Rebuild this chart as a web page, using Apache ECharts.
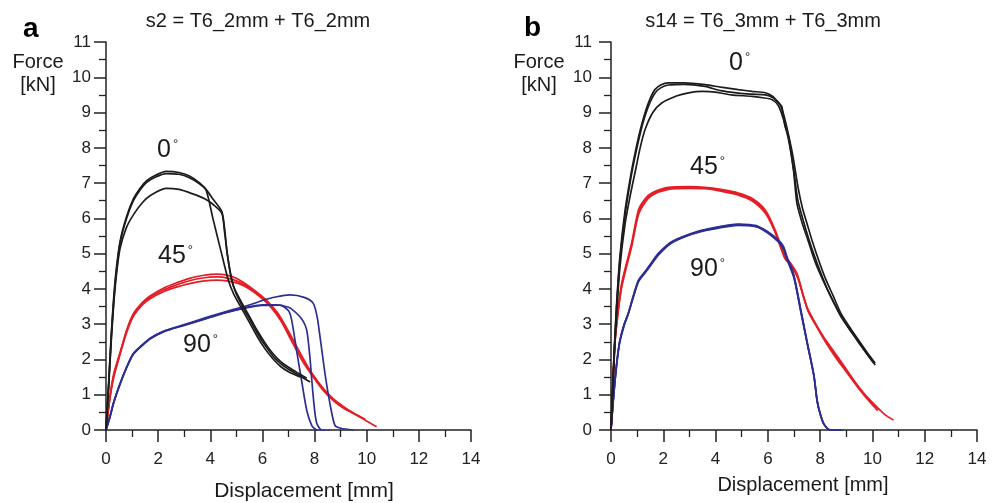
<!DOCTYPE html>
<html>
<head>
<meta charset="utf-8">
<script src="https://cdn.jsdelivr.net/npm/echarts@6/dist/echarts.min.js"></script>
<style>
html,body{margin:0;padding:0;background:#fff;}
#chart{width:1003px;height:503px;}
</style>
</head>
<body>
<div id="chart"></div>
<script>
// ---- axis ticks ----
const xTicks = [0, 2, 4, 6, 8, 10, 12, 14];
const yTicks = [0, 1, 2, 3, 4, 5, 6, 7, 8, 9, 10, 11];

// ---- texts ----
const panelLetters = ['a', 'b'];
const panelTitles = ['s2 = T6_2mm + T6_2mm', 's14 = T6_3mm + T6_3mm'];
const xAxisTitle = 'Displacement [mm]';
const yAxisTitle = ['Force', '[kN]'];
const angleLabels = ['0', '45', '90'];

// ---- panel a : s2 (displacement mm, force kN) ----
const s2_0_A = [[0,0],[0.1,1.3],[0.2,2.7],[0.3,3.8],[0.4,4.6],[0.54,5.35],[0.79,6.05],[1.05,6.55],[1.3,6.85],[1.56,7.07],[1.9,7.22],[2.3,7.33],[2.8,7.3],[3.2,7.2],[3.6,7.0],[3.86,6.8],[4.1,6.55],[4.44,6.2],[4.55,5.7],[4.65,5.0],[4.8,4.35],[4.95,3.95],[5.2,3.55],[5.5,3.15],[5.8,2.75],[6.1,2.4],[6.4,2.1],[6.7,1.88],[7.0,1.72],[7.4,1.55],[7.83,1.36]];
const s2_0_B = [[0,0],[0.1,1.25],[0.2,2.6],[0.3,3.7],[0.4,4.5],[0.54,5.3],[0.79,6.0],[1.05,6.5],[1.3,6.8],[1.56,7.02],[1.9,7.17],[2.3,7.27],[2.8,7.25],[3.2,7.15],[3.6,6.97],[3.84,6.8],[4.1,6.0],[4.4,5.1],[4.69,4.25],[4.9,3.85],[5.2,3.45],[5.5,3.05],[5.8,2.65],[6.1,2.3],[6.4,2.02],[6.7,1.8],[7.0,1.65],[7.44,1.5]];
const s2_0_C = [[0,0],[0.1,1.2],[0.2,2.5],[0.3,3.6],[0.4,4.4],[0.54,5.15],[0.79,5.75],[1.05,6.1],[1.4,6.45],[1.7,6.65],[2.3,6.85],[2.8,6.82],[3.3,6.7],[3.8,6.55],[4.1,6.4],[4.44,6.15],[4.55,5.6],[4.65,5.0],[4.78,4.4],[4.9,4.05],[5.2,3.62],[5.5,3.22],[5.8,2.82],[6.1,2.47],[6.4,2.17],[6.7,1.94],[7.0,1.78],[7.4,1.6],[7.7,1.47]];

const s2_45_A = [[0,0],[0.15,0.95],[0.3,1.6],[0.54,2.2],[0.8,2.85],[1.05,3.3],[1.4,3.62],[1.69,3.8],[2.2,4.02],[2.7,4.17],[3.2,4.3],[3.7,4.38],[4.25,4.42],[4.6,4.4],[5.0,4.3],[5.4,4.12],[5.8,3.9],[6.2,3.65],[6.6,3.3],[7.0,2.8],[7.4,2.25],[7.8,1.72],[8.2,1.3],[8.6,0.95],[9.0,0.72],[9.5,0.46],[9.9,0.3],[10.38,0.09]];
const s2_45_B = [[0,0],[0.15,0.9],[0.3,1.5],[0.54,2.15],[0.8,2.78],[1.05,3.22],[1.4,3.55],[1.69,3.72],[2.2,3.92],[2.7,4.05],[3.2,4.15],[3.7,4.22],[4.25,4.25],[4.7,4.22],[5.1,4.15],[5.5,4.0],[5.9,3.78],[6.3,3.5],[6.7,3.1],[7.1,2.55],[7.5,2.0],[7.9,1.55],[8.3,1.15],[8.7,0.85],[9.1,0.62],[9.49,0.47]];
const s2_45_C = [[0,0],[0.15,0.92],[0.3,1.55],[0.54,2.18],[0.8,2.82],[1.05,3.26],[1.4,3.58],[1.69,3.76],[2.2,3.97],[2.7,4.11],[3.2,4.23],[3.7,4.31],[4.25,4.34],[4.7,4.3],[5.1,4.2],[5.5,4.03],[5.9,3.8],[6.3,3.52],[6.7,3.15],[7.1,2.62],[7.5,2.08],[7.9,1.6],[8.3,1.2],[8.7,0.9],[9.1,0.66],[9.6,0.44],[9.95,0.3]];

const s2_90_A = [[0,0],[0.15,0.37],[0.3,0.8],[0.54,1.32],[0.8,1.8],[1.05,2.17],[1.4,2.42],[1.69,2.6],[2.2,2.8],[2.97,2.98],[3.6,3.13],[4.25,3.28],[4.9,3.42],[5.52,3.55],[6.0,3.67],[6.5,3.77],[7.06,3.83],[7.6,3.76],[7.95,3.59],[8.1,3.2],[8.21,2.64],[8.4,1.6],[8.59,0.75],[8.78,0.13],[9.0,0.05],[9.49,0.0]];
const s2_90_B = [[0,0],[0.15,0.36],[0.3,0.78],[0.54,1.3],[0.8,1.78],[1.05,2.15],[1.4,2.4],[1.69,2.58],[2.2,2.78],[2.97,2.96],[3.6,3.1],[4.25,3.25],[4.9,3.38],[5.52,3.48],[6.0,3.53],[6.67,3.54],[7.0,3.38],[7.12,3.12],[7.31,2.26],[7.5,1.41],[7.7,0.56],[7.9,0.12],[8.08,0.0],[8.21,-0.05],[8.4,0.0]];
const s2_90_C = [[0,0],[0.15,0.38],[0.3,0.8],[0.54,1.31],[0.8,1.79],[1.05,2.16],[1.4,2.41],[1.69,2.59],[2.2,2.79],[2.97,2.97],[3.6,3.11],[4.25,3.26],[4.9,3.39],[5.52,3.5],[6.0,3.55],[6.5,3.55],[7.0,3.48],[7.31,3.31],[7.55,3.1],[7.7,2.83],[7.82,2.07],[7.95,0.94],[8.08,0.2],[8.34,-0.05],[8.6,0.0]];

// ---- panel b : s14 ----
const s14_0_A = [[0,0],[0.05,1.0],[0.12,2.2],[0.2,3.4],[0.34,4.91],[0.54,6.24],[0.75,7.2],[0.92,7.85],[1.1,8.45],[1.3,8.99],[1.5,9.4],[1.68,9.65],[1.9,9.78],[2.19,9.84],[2.8,9.84],[3.6,9.79],[4.2,9.72],[4.87,9.65],[5.4,9.6],[5.9,9.56],[6.2,9.45],[6.4,9.27],[6.53,9.18],[6.66,8.6],[6.79,8.32],[6.98,7.38],[7.11,6.43],[7.3,5.9],[7.49,5.48],[7.7,5.0],[7.88,4.63],[8.2,4.1],[8.5,3.65],[8.77,3.25],[9.1,2.88],[9.41,2.56],[9.8,2.15],[10.11,1.84]];
const s14_0_B = [[0,0],[0.05,0.95],[0.12,2.1],[0.2,3.3],[0.34,4.8],[0.54,6.1],[0.75,7.1],[0.92,7.75],[1.1,8.35],[1.3,8.9],[1.5,9.3],[1.68,9.55],[1.9,9.7],[2.19,9.78],[2.8,9.8],[3.6,9.74],[4.2,9.62],[4.87,9.55],[5.4,9.52],[5.9,9.5],[6.2,9.42],[6.45,9.25],[6.6,8.95],[6.75,8.5],[6.95,7.8],[7.15,6.9],[7.32,6.3],[7.5,5.85],[7.7,5.35],[7.95,4.8],[8.2,4.3],[8.5,3.8],[8.8,3.3],[9.1,2.95],[9.4,2.62],[9.8,2.2],[10.1,1.9]];
const s14_0_C = [[0,0],[0.05,0.9],[0.12,2.0],[0.2,3.1],[0.34,4.6],[0.54,5.85],[0.75,6.7],[0.92,7.3],[1.1,7.95],[1.3,8.51],[1.6,9.0],[1.94,9.27],[2.5,9.47],[2.96,9.56],[3.5,9.6],[4.0,9.58],[4.6,9.5],[5.39,9.46],[5.8,9.42],[6.15,9.37],[6.4,9.2],[6.6,8.8],[6.8,8.2],[7.0,7.3],[7.15,6.5],[7.35,5.95],[7.55,5.45],[7.75,5.0],[8.0,4.5],[8.3,3.95],[8.6,3.5],[8.9,3.1],[9.2,2.78],[9.5,2.45],[9.8,2.15],[10.05,1.9]];

const s14_45_A = [[0,0],[0.05,0.8],[0.15,2.55],[0.3,3.6],[0.41,4.16],[0.6,4.75],[0.79,5.3],[1.05,6.24],[1.3,6.55],[1.56,6.72],[2.19,6.88],[3.0,6.9],[3.6,6.88],[4.2,6.82],[4.87,6.72],[5.39,6.57],[5.9,6.24],[6.28,5.67],[6.66,4.91],[6.85,4.75],[7.11,4.44],[7.3,3.95],[7.49,3.49],[7.8,3.05],[8.13,2.64],[8.6,2.15],[9.02,1.7],[9.4,1.3],[9.79,0.94],[10.23,0.61],[10.5,0.42],[10.81,0.28]];
const s14_45_B = [[0,0],[0.05,0.75],[0.15,2.45],[0.3,3.5],[0.41,4.05],[0.6,4.65],[0.79,5.2],[1.05,6.1],[1.3,6.45],[1.56,6.65],[2.19,6.82],[3.0,6.85],[3.6,6.84],[4.2,6.77],[4.87,6.66],[5.39,6.5],[5.9,6.15],[6.28,5.6],[6.66,4.85],[6.9,4.65],[7.15,4.3],[7.35,3.8],[7.55,3.35],[7.85,2.95],[8.2,2.5],[8.6,2.05],[9.0,1.65],[9.4,1.25],[9.8,0.88],[10.2,0.55]];
const s14_45_C = [[0,0],[0.05,0.78],[0.15,2.5],[0.3,3.55],[0.41,4.1],[0.6,4.7],[0.79,5.25],[1.05,6.17],[1.3,6.5],[1.56,6.68],[2.19,6.85],[3.0,6.87],[3.6,6.86],[4.2,6.8],[4.87,6.69],[5.39,6.54],[5.9,6.2],[6.28,5.62],[6.66,4.88],[6.88,4.7],[7.13,4.38],[7.33,3.88],[7.52,3.42],[7.82,3.0],[8.17,2.58],[8.6,2.1],[9.0,1.68],[9.4,1.28],[9.8,0.92],[10.25,0.58]];

const s14_90_A = [[0,0],[0.08,0.8],[0.15,1.41],[0.25,2.1],[0.34,2.55],[0.5,3.0],[0.66,3.31],[0.85,3.8],[1.05,4.25],[1.3,4.49],[1.55,4.75],[1.81,5.01],[2.32,5.34],[3.09,5.58],[3.8,5.72],[4.87,5.84],[5.3,5.82],[5.64,5.77],[6.0,5.62],[6.4,5.39],[6.6,5.2],[6.73,4.91],[6.98,4.44],[7.24,3.49],[7.49,2.55],[7.75,1.6],[7.88,0.84],[8.0,0.45],[8.13,0.18],[8.38,0.0],[8.9,0.0]];
const s14_90_B = [[0,0],[0.08,0.75],[0.15,1.35],[0.25,2.05],[0.34,2.5],[0.5,2.95],[0.66,3.28],[0.85,3.75],[1.05,4.2],[1.3,4.45],[1.55,4.7],[1.81,4.96],[2.32,5.3],[3.09,5.55],[3.8,5.68],[4.87,5.8],[5.3,5.79],[5.64,5.74],[6.0,5.58],[6.4,5.33],[6.6,5.12],[6.75,4.8],[7.0,4.3],[7.26,3.35],[7.52,2.4],[7.77,1.5],[7.9,0.78],[8.03,0.4],[8.16,0.15],[8.4,0.0],[8.7,0.0]];
const s14_90_C = [[0,0],[0.08,0.78],[0.15,1.38],[0.25,2.08],[0.34,2.53],[0.5,2.98],[0.66,3.3],[0.85,3.78],[1.05,4.22],[1.3,4.47],[1.55,4.72],[1.81,4.98],[2.32,5.32],[3.09,5.56],[3.8,5.7],[4.87,5.82],[5.3,5.8],[5.64,5.75],[6.0,5.6],[6.4,5.36],[6.6,5.16],[6.74,4.86],[6.99,4.37],[7.25,3.42],[7.5,2.48],[7.76,1.55],[7.89,0.8],[8.02,0.42],[8.15,0.16],[8.4,0.0],[8.8,0.0]];

// ---- styling ----
const BLACK = '#1c1c1c', RED = '#e41e26', BLUE = '#2c2e92';
const FONT = 'Liberation Sans, Arial, Helvetica, sans-serif';
const AX = '#222';

function lineSeries(data, color, gi) {
  return {
    type: 'line', xAxisIndex: gi, yAxisIndex: gi, data: data,
    showSymbol: false, symbol: 'none', smooth: 0.25, silent: true,
    lineStyle: { color: color, width: 1.7 }, animation: false, z: color === BLACK ? 3 : 2
  };
}

function xAx(gi) {
  return {
    type: 'value', gridIndex: gi, min: xTicks[0], max: xTicks[xTicks.length - 1],
    interval: xTicks[1] - xTicks[0],
    axisLine: { show: true, onZero: false, lineStyle: { color: AX, width: 1.5 } },
    axisTick: { show: true, length: 12, lineStyle: { color: AX, width: 1.5 } },
    minorTick: { show: true, splitNumber: 2, length: 7, lineStyle: { color: AX, width: 1.3 } },
    splitLine: { show: false },
    axisLabel: { color: '#222', fontSize: 17, fontFamily: FONT, margin: 21 }
  };
}
function yAx(gi, margin) {
  return {
    type: 'value', gridIndex: gi, min: yTicks[0], max: yTicks[yTicks.length - 1],
    interval: yTicks[1] - yTicks[0],
    axisLine: { show: true, onZero: false, lineStyle: { color: AX, width: 1.5 } },
    axisTick: { show: true, length: 12, lineStyle: { color: AX, width: 1.5 } },
    minorTick: { show: true, splitNumber: 2, length: 7, lineStyle: { color: AX, width: 1.3 } },
    splitLine: { show: false },
    axisLabel: { color: '#222', fontSize: 17, fontFamily: FONT, margin: margin }
  };
}

function txt(x, y, text, size, opts) {
  opts = opts || {};
  return {
    type: 'text', x: x, y: y, silent: true,
    style: Object.assign({
      text: text, fill: '#1a1a1a', fontSize: size, fontFamily: FONT,
      align: 'center', verticalAlign: 'middle'
    }, opts)
  };
}
function angleTxt(x, y, num) {
  return {
    type: 'text', x: x, y: y, silent: true,
    style: {
      text: '{n|' + num + '}{d|°}', align: 'left', verticalAlign: 'middle',
      rich: {
        n: { fontSize: 25, fontFamily: FONT, fill: '#1a1a1a' },
        d: { fontSize: 13, fontFamily: FONT, fill: '#1a1a1a', verticalAlign: 'top', padding: [0, 0, 0, 2] }
      }
    }
  };
}

const series = [
  lineSeries(s2_45_A, RED, 0), lineSeries(s2_45_B, RED, 0), lineSeries(s2_45_C, RED, 0),
  lineSeries(s2_90_A, BLUE, 0), lineSeries(s2_90_B, BLUE, 0), lineSeries(s2_90_C, BLUE, 0),
  lineSeries(s2_0_A, BLACK, 0), lineSeries(s2_0_B, BLACK, 0), lineSeries(s2_0_C, BLACK, 0),
  lineSeries(s14_0_A, BLACK, 1), lineSeries(s14_0_B, BLACK, 1), lineSeries(s14_0_C, BLACK, 1),
  lineSeries(s14_45_A, RED, 1), lineSeries(s14_45_B, RED, 1), lineSeries(s14_45_C, RED, 1),
  lineSeries(s14_90_A, BLUE, 1), lineSeries(s14_90_B, BLUE, 1), lineSeries(s14_90_C, BLUE, 1)
];

const option = {
  backgroundColor: '#ffffff',
  animation: false,
  grid: [
    { left: 106, top: 42, width: 365, height: 388 },
    { left: 611, top: 42, width: 366, height: 388 }
  ],
  xAxis: [xAx(0), xAx(1)],
  yAxis: [yAx(0, 15), yAx(1, 19)],
  series: series,
  graphic: [
    txt(23, 29, panelLetters[0], 28, { fontWeight: 'bold', align: 'left', fill: '#000' }),
    txt(524, 28, panelLetters[1], 28, { fontWeight: 'bold', align: 'left', fill: '#000' }),
    txt(258, 21, panelTitles[0], 20),
    txt(763, 21, panelTitles[1], 20),
    txt(38, 62, yAxisTitle[0], 20),
    txt(38, 85, yAxisTitle[1], 20),
    txt(539, 62, yAxisTitle[0], 20),
    txt(539, 85, yAxisTitle[1], 20),
    txt(304, 491, xAxisTitle, 21),
    txt(803, 485, xAxisTitle, 20),
    angleTxt(157, 150, angleLabels[0]),
    angleTxt(158, 256, angleLabels[1]),
    angleTxt(183, 345, angleLabels[2]),
    angleTxt(729, 63, angleLabels[0]),
    angleTxt(690, 167, angleLabels[1]),
    angleTxt(690, 269, angleLabels[2])
  ]
};

const chart = echarts.init(document.getElementById('chart'), null, { renderer: 'canvas' });
chart.setOption(option);
</script>
</body>
</html>
